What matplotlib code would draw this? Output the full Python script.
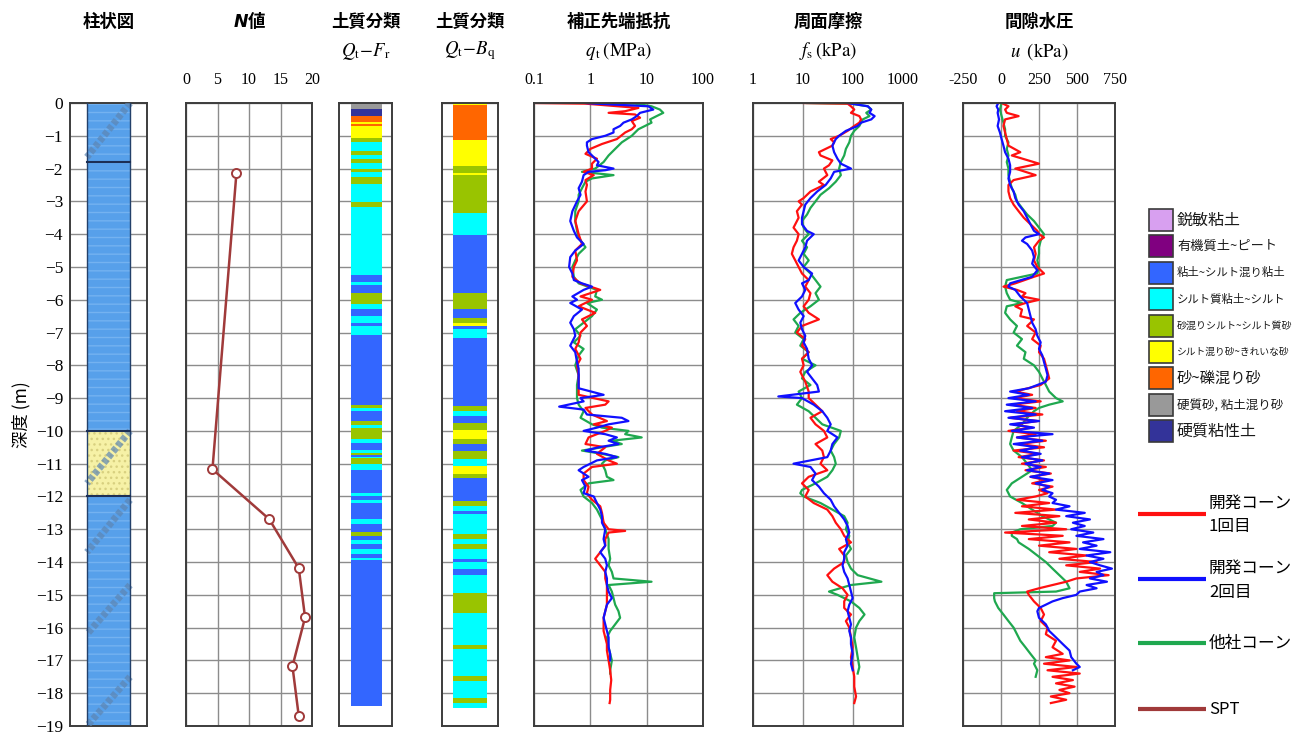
import numpy as np
import matplotlib
matplotlib.use("Agg")
import matplotlib.pyplot as plt
from matplotlib.patches import Rectangle

plt.rcParams['font.family'] = ['Noto Sans CJK JP', 'DejaVu Sans']
plt.rcParams['mathtext.fontset'] = 'stix'

# ---------------- DATA ----------------
soil_names = ['鋭敏粘土', '有機質土~ピート', '粘土~シルト混り粘土', 'シルト質粘土~シルト',
              '砂混りシルト~シルト質砂', 'シルト混り砂~きれいな砂', '砂~礫混り砂',
              '硬質砂, 粘土混り砂', '硬質粘性土']
soil_colors = ['#d8a0f0', '#800080', '#3366ff', '#00ffff', '#99c400', '#ffff00',
               '#ff6600', '#999999', '#333399']

column_bounds = [0.0, 1.8, 10.0, 12.0, 19.0]
column_type = ['clay', 'clay', 'sand', 'clay']
column_band_top = [0.0, 10.0, 12.1, 14.7, 17.5]
column_band_bot = [1.65, 11.6, 13.7, 16.2, 19.0]

spt_depth = [2.15, 11.17, 12.69, 14.19, 15.69, 17.18, 18.7]
spt_n = [8.0, 4.2, 13.2, 17.9, 18.9, 16.9, 17.9]

qtfr_bounds = [0.00, 0.17, 0.40, 0.58, 0.64, 0.70, 1.07, 1.20, 1.47, 1.58, 1.72, 1.82, 2.00, 2.10,
               2.25, 2.48, 3.02, 3.16, 5.26, 5.45, 5.55, 5.79, 6.12, 6.27, 6.50, 6.72, 6.80, 7.08,
               9.20, 9.30, 9.40, 9.70, 9.82, 9.90, 10.26, 10.38, 10.57, 10.67, 10.73, 10.80, 10.84,
               11.02, 11.20, 11.90, 12.00, 12.10, 12.20, 12.68, 12.85, 13.08, 13.20, 13.33, 13.45,
               13.60, 13.75, 13.87, 13.95, 18.40]
qtfr_class = [8, 9, 7, 6, 7, 6, 5, 4, 5, 4, 5, 4, 5, 4, 5, 4, 5, 4, 3, 4, 3, 5, 4, 3, 4, 3, 4, 3,
              5, 4, 3, 5, 4, 5, 4, 3, 4, 5, 3, 4, 5, 4, 3, 4, 3, 4, 3, 4, 3, 5, 3, 4, 3, 4, 3, 4, 3]

qtbq_bounds = [0.00, 0.06, 1.12, 1.91, 2.13, 2.21, 3.34, 4.02, 5.79, 6.27, 6.57, 6.72, 6.80, 6.90,
               7.16, 9.25, 9.40, 9.56, 9.76, 9.96, 10.26, 10.41, 10.60, 10.87, 11.07, 11.30, 11.44,
               12.13, 12.28, 12.43, 12.53, 13.14, 13.30, 13.45, 13.60, 13.90, 14.00, 14.20, 14.40,
               14.95, 15.56, 16.52, 16.66, 17.48, 17.64, 18.14, 18.30, 18.45]
qtbq_class = [6, 7, 6, 5, 6, 5, 4, 3, 5, 3, 5, 6, 3, 4, 3, 5, 4, 3, 5, 6, 5, 3, 5, 4, 6, 5, 3, 5, 4,
              3, 4, 5, 4, 5, 4, 3, 4, 3, 4, 5, 4, 5, 4, 5, 4, 5, 4]

# qt (MPa)
qt1_depth = [0.00, 0.02, 0.15, 0.25, 0.30, 0.35, 0.45, 0.55, 0.70, 0.80, 0.90, 1.10, 1.25, 1.40, 1.55,
             1.70, 1.85, 2.00, 2.10, 2.20, 2.35, 2.50, 2.70, 3.00, 3.30, 3.60, 3.80, 4.00, 4.30, 4.50,
             4.80, 5.00, 5.30, 5.50, 5.70, 5.90, 6.00, 6.20, 6.40, 6.60, 6.80, 7.00, 7.30, 7.50, 7.80,
             8.00, 8.30, 8.60, 8.90, 9.10, 9.20, 9.30, 9.50, 9.70, 9.80, 9.90, 10.00, 10.20, 10.40,
             10.50, 10.70, 10.90, 11.00, 11.10, 11.30, 11.50, 11.70, 11.90, 12.10, 12.30, 12.50,
             12.80, 13.00, 13.05, 13.10, 13.30, 13.50, 13.70, 13.90, 14.10, 14.30, 14.50, 14.70,
             14.90, 15.10, 15.30, 15.50, 15.70, 15.90, 16.10, 16.30, 16.50, 16.70, 17.00, 17.30,
             17.60, 17.90, 18.20, 18.30]
qt1_value = [0.10, 0.82, 7.13, 4.15, 2.11, 6.22, 7.63, 5.44, 6.22, 5.44, 4.15, 2.96, 1.61, 1.00, 0.82,
             1.31, 1.07, 1.07, 0.76, 1.15, 0.82, 0.87, 0.82, 0.87, 0.62, 0.54, 0.58, 0.62, 0.71, 0.54,
             0.58, 0.51, 0.48, 0.67, 1.50, 0.67, 1.07, 0.62, 1.22, 0.71, 0.87, 0.67, 0.62, 0.54, 0.67,
             0.58, 0.62, 0.62, 0.62, 2.11, 1.84, 0.82, 1.07, 1.97, 1.15, 2.41, 1.84, 0.93, 0.82,
             1.84, 1.31, 2.11, 2.96, 1.07, 0.76, 0.76, 0.93, 0.87, 1.07, 1.50, 1.61,
             1.72, 2.11, 4.15, 2.11, 1.84, 1.84, 1.50, 1.22, 1.50, 1.84, 1.84, 1.97,
             1.97, 1.97, 1.97, 1.84, 1.72, 1.72, 1.72, 1.84, 1.97, 1.97, 2.11, 2.25,
             2.35, 2.25, 2.25, 2.20]

qt2_depth = [0.00, 0.02, 0.10, 0.20, 0.30, 0.40, 0.50, 0.60, 0.70, 0.80, 0.90, 1.00, 1.10, 1.20, 1.30,
             1.50, 1.60, 1.80, 1.90, 2.00, 2.05, 2.10, 2.20, 2.40, 2.60, 2.80, 3.00, 3.30, 3.60, 3.90,
             4.10, 4.30, 4.50, 4.70, 5.00, 5.20, 5.40, 5.50, 5.60, 5.70, 5.90, 6.00, 6.10, 6.30, 6.50,
             6.70, 6.90, 7.10, 7.40, 7.60, 7.90, 8.10, 8.40, 8.70, 8.90, 9.00, 9.10, 9.26, 9.35, 9.50,
             9.60, 9.70, 9.80, 9.90, 10.00, 10.10, 10.20, 10.30, 10.40, 10.50, 10.60, 10.70, 10.80,
             10.90, 11.00, 11.10, 11.20, 11.40, 11.50, 11.70, 11.90, 12.00, 12.20, 12.40, 12.60,
             12.80, 13.00, 13.30, 13.50, 13.70, 13.90, 14.10, 14.30, 14.50, 14.70, 14.90, 15.10,
             15.30, 15.50, 15.70, 15.90, 16.10, 16.30, 16.60, 16.80, 17.00]
qt2_value = [0.82, 1.22, 10.7, 13.1, 7.63, 6.66, 5.44, 3.88, 3.38, 2.58, 2.58, 1.84, 1.07, 0.87, 0.87,
             0.93, 1.07, 1.40, 1.31, 2.58, 1.84, 0.93, 0.76, 0.71, 0.62, 0.67, 0.58, 0.48, 0.44, 0.51,
             0.58, 0.76, 0.54, 0.44, 0.42, 0.48, 0.51, 0.71, 1.07, 0.76, 0.48, 0.58, 0.44, 0.71, 0.51,
             0.44, 0.51, 0.54, 0.44, 0.54, 0.58, 0.62, 0.62, 0.62, 1.72, 0.67, 0.76, 0.28, 0.76, 0.87,
             3.62, 4.75, 2.11, 1.31, 0.76, 1.84, 2.96, 2.11, 3.16, 1.40, 0.82, 1.84, 2.96,
             1.31, 1.00, 0.76, 0.62, 0.93, 0.71, 0.82, 0.76, 1.15, 1.31, 1.50, 1.61,
             1.61, 1.84, 1.72, 1.84, 1.50, 1.84, 1.97, 1.84, 1.97, 1.97, 2.11, 2.41,
             1.97, 1.84, 1.72, 1.84, 1.97, 2.11, 2.11, 2.25, 2.25]

qt3_depth = [0.00, 0.02, 0.10, 0.20, 0.30, 0.40, 0.50, 0.60, 0.70, 0.80, 0.90, 1.00, 1.20, 1.40, 1.60,
             1.80, 2.00, 2.10, 2.20, 2.30, 2.40, 2.60, 2.80, 3.00, 3.30, 3.60, 3.90, 4.10, 4.40, 4.60,
             4.80, 5.00, 5.30, 5.50, 5.70, 5.90, 6.00, 6.10, 6.30, 6.50, 6.70, 6.90, 7.10, 7.30, 7.50,
             7.70, 8.00, 8.30, 8.60, 8.90, 9.00, 9.20, 9.40, 9.60, 9.80, 9.90, 10.00, 10.10, 10.20,
             10.30, 10.40, 10.60, 10.70, 10.80, 10.90, 11.00, 11.20, 11.40, 11.50, 11.60, 11.80,
             12.00, 12.20, 12.40, 12.60, 12.80, 13.00, 13.30, 13.60, 13.90, 14.10, 14.30, 14.50,
             14.60, 14.70, 14.90, 15.10, 15.30, 15.50, 15.70, 15.90, 16.10, 16.30, 16.60, 16.80,
             17.00, 17.30, 17.40]
qt3_value = [1.22, 6.22, 12.2, 17.2, 19.7, 15.0, 11.5, 12.2, 9.35, 7.13, 6.22, 5.44, 3.62, 2.76, 2.11,
             1.72, 1.22, 0.71, 2.58, 1.07, 0.82, 0.71, 0.62, 0.62, 0.54, 0.54, 0.58, 0.62, 0.82, 0.62,
             0.54, 0.48, 0.51, 0.62, 1.31, 1.22, 1.61, 0.87, 1.31, 1.07, 0.76, 0.54, 0.67, 0.51, 0.76,
             0.62, 0.54, 0.62, 0.58, 0.58, 0.58, 0.62, 0.76, 0.67, 1.07, 1.61, 4.75, 4.15, 8.16,
             2.41, 3.62, 0.71, 1.61, 3.16, 1.84, 1.61, 1.84, 1.97, 2.58, 0.93, 0.67,
             0.76, 1.07, 1.31, 1.50, 1.72, 1.84, 2.11, 2.11, 2.25, 2.11, 2.41, 2.58,
             12.2, 2.11, 2.41, 2.58, 2.76, 3.16, 3.38, 2.76, 2.25, 1.97, 2.11, 2.25,
             2.41, 2.25, 2.25]

# fs (kPa)
fs1_depth = [0.00, 0.02, 0.10, 0.20, 0.30, 0.40, 0.50, 0.60, 0.70, 0.85, 1.00, 1.10, 1.20, 1.30, 1.50,
             1.60, 1.75, 1.90, 2.00, 2.20, 2.40, 2.50, 2.70, 2.90, 3.00, 3.10, 3.30, 3.50, 3.80, 4.00,
             4.20, 4.40, 4.60, 4.80, 5.00, 5.20, 5.40, 5.60, 5.80, 6.00, 6.20, 6.40, 6.60, 6.80, 7.00,
             7.20, 7.40, 7.60, 7.80, 8.00, 8.20, 8.50, 8.80, 9.00, 9.20, 9.40, 9.60, 9.80, 10.00,
             10.20, 10.40, 10.60, 10.80, 11.00, 11.20, 11.40, 11.60, 11.80, 12.00, 12.20, 12.40,
             12.60, 12.80, 13.00, 13.20, 13.40, 13.60, 13.80, 14.00, 14.20, 14.40, 14.60, 14.80,
             15.00, 15.20, 15.40, 15.60, 15.80, 16.00, 16.30, 16.60, 16.90, 17.20, 17.50, 17.80,
             18.10, 18.30]
fs1_value = [10.3, 78.0, 91.1, 106, 91.1, 134, 145, 134, 106, 78.0, 52.8, 35.8, 41.9, 38.7, 20.8,
             22.4, 38.7, 33.1, 26.2, 30.6, 20.8, 26.2, 14.1, 10.3, 8.17, 9.55, 7.55, 8.17, 6.47, 8.17,
             7.55, 6.47, 5.98, 7.0, 8.17, 9.55, 13.0, 11.1, 14.1, 13.0, 10.3, 13.0, 20.8, 9.55, 7.55,
             11.1, 9.55, 13.0, 9.55, 10.3, 8.83, 11.1, 13.0, 13.0, 17.8, 24.3, 14.1, 17.8, 26.2,
             30.6, 17.8, 24.3, 26.2, 22.4, 30.6, 13.0, 9.55, 13.0, 11.1, 16.4, 30.6,
             38.7, 45.2, 57.1, 66.7, 91.1, 52.8, 66.7, 66.7, 41.9, 30.6, 38.7, 61.8,
             78.0, 66.7, 66.7, 91.1, 72.1, 84.3, 91.1, 98.4, 91.1, 98.4, 106, 106,
             115, 106]

fs2_depth = [0.00, 0.10, 0.20, 0.30, 0.40, 0.50, 0.60, 0.70, 0.85, 1.00, 1.10, 1.30, 1.50, 1.70, 1.85,
             2.00, 2.10, 2.30, 2.50, 2.70, 2.90, 3.10, 3.30, 3.50, 3.70, 3.90, 4.00, 4.20, 4.40, 4.60,
             4.80, 5.00, 5.20, 5.40, 5.50, 5.70, 5.90, 6.10, 6.30, 6.50, 6.70, 6.90, 7.10, 7.30, 7.50,
             7.80, 8.00, 8.20, 8.40, 8.60, 8.80, 8.95, 9.00, 9.20, 9.40, 9.60, 9.80, 10.00, 10.20,
             10.40, 10.60, 10.80, 10.90, 11.00, 11.10, 11.30, 11.50, 11.70, 11.90, 12.10, 12.30,
             12.50, 12.70, 12.90, 13.10, 13.30, 13.50, 13.70, 13.90, 14.10, 14.30, 14.50, 14.70,
             14.90, 15.10, 15.30, 15.50, 15.70, 15.90, 16.10, 16.30, 16.50, 16.80, 17.10, 17.30]
fs2_value = [78.0, 198, 232, 214, 271, 232, 145, 124, 72.1, 52.8, 45.2, 38.7, 41.9, 48.9, 57.1,
             91.1, 41.9, 35.8, 28.4, 19.2, 14.1, 11.1, 10.3, 9.55, 9.55, 12.05, 16.4, 12.05, 11.1, 9.55,
             8.17, 10.3, 15.2, 13.0, 9.55, 11.1, 9.55, 7.0, 8.17, 10.3, 8.83, 9.55, 11.1, 10.3, 12.05,
             13.0, 15.2, 12.05, 15.2, 19.2, 20.8, 3.21, 9.55, 16.4, 24.3, 30.6, 35.8, 30.6, 48.9,
             38.7, 35.8, 30.6, 14.1, 6.47, 14.1, 17.8, 15.2, 20.8, 26.2, 35.8, 41.9,
             52.8, 66.7, 78.0, 84.3, 72.1, 78.0, 66.7, 66.7, 61.8, 66.7, 78.0, 84.3,
             91.1, 98.4, 84.3, 78.0, 84.3, 91.1, 84.3, 91.1, 91.1, 98.4, 91.1, 98.4]

fs3_depth = [0.00, 0.02, 0.10, 0.20, 0.30, 0.40, 0.50, 0.60, 0.70, 0.85, 1.00, 1.20, 1.40, 1.60, 1.80,
             2.00, 2.20, 2.40, 2.60, 2.80, 3.00, 3.20, 3.40, 3.60, 3.80, 4.00, 4.20, 4.40, 4.60, 4.80,
             5.00, 5.20, 5.40, 5.60, 5.80, 6.00, 6.20, 6.40, 6.60, 6.80, 7.00, 7.20, 7.40, 7.60, 7.80,
             8.00, 8.20, 8.40, 8.60, 8.80, 9.00, 9.20, 9.40, 9.60, 9.80, 10.00, 10.20, 10.40, 10.60,
             10.80, 11.00, 11.20, 11.40, 11.60, 11.80, 11.90, 12.00, 12.20, 12.40, 12.60, 12.80,
             13.00, 13.20, 13.40, 13.60, 13.80, 14.00, 14.20, 14.40, 14.60, 14.70, 14.90, 15.00,
             15.20, 15.40, 15.60, 15.80, 16.00, 16.30, 16.60, 16.90, 17.20, 17.40]
fs3_value = [12.05, 91.1, 198, 232, 184, 214, 157, 145, 134, 106, 91.1, 84.3, 72.1, 66.7, 57.1,
             52.8, 57.1, 45.2, 33.1, 22.4, 17.8, 14.1, 12.05, 9.55, 10.3, 13.0, 9.55, 12.05, 10.3, 13.0,
             10.3, 14.1, 17.8, 22.4, 17.8, 20.8, 14.1, 8.83, 6.47, 8.17, 7.0, 10.3, 8.83, 13.0, 9.55,
             17.8, 11.1, 9.55, 14.1, 8.17, 9.55, 7.55, 13.0, 17.8, 24.3, 57.1, 52.8, 41.9, 35.8,
             41.9, 45.2, 38.7, 30.6, 17.8, 9.55, 8.83, 10.3, 22.4, 38.7, 66.7, 78.0,
             72.1, 84.3, 78.0, 91.1, 72.1, 78.0, 91.1, 124, 370, 91.1, 33.1, 48.9,
             91.1, 134, 170, 134, 115, 106, 115, 124, 134, 124]

# u (kPa)
u1_depth = [0.0, 0.1, 0.2, 0.3, 0.4, 0.5, 0.7, 0.9, 1.1, 1.3, 1.5, 1.6, 1.85, 2.0, 2.2, 2.35, 2.5, 2.7,
            2.9, 3.1, 3.3, 3.5, 3.7, 3.9, 4.0, 4.1, 4.2, 4.4, 4.6, 4.8, 5.0, 5.2, 5.3, 5.5, 5.6, 5.7,
            5.8, 5.9, 6.0, 6.1, 6.2, 6.3, 6.5, 6.6, 6.8, 7.0, 7.2, 7.4, 7.6, 7.8, 8.0, 8.2, 8.4, 8.6,
            8.8, 8.9, 9.0, 9.1, 9.2, 9.3, 9.4, 9.5, 9.6, 9.7, 9.8, 9.9, 10.0, 10.1, 10.2, 10.3, 10.4,
            10.5, 10.6, 10.7, 10.8, 10.9, 11.0, 11.1, 11.2, 11.3, 11.4, 11.5, 11.6, 11.7, 11.8, 11.9,
            12.0, 12.1, 12.2, 12.3, 12.4, 12.5, 12.6, 12.7, 12.8, 12.9, 13.0, 13.1, 13.2, 13.3, 13.4,
            13.5, 13.6, 13.7, 13.8, 13.9, 14.0, 14.1, 14.2, 14.3, 14.4, 14.5, 14.6, 14.7, 14.8, 14.9,
            15.0, 15.2, 15.4, 15.6, 15.8, 16.0, 16.2, 16.4, 16.6, 16.8, 16.9, 17.0, 17.1, 17.2, 17.3,
            17.4, 17.5, 17.6, 17.7, 17.8, 17.9, 18.0, 18.1, 18.2, 18.3]
u1_value = [4, 49, 27, 38, 116, 27, 16, 27, 38, 49, 127, 71, 250, 94, 228, 83, 49, 49,
            60, 83, 116, 150, 194, 239, 250, 283, 250, 217, 228, 217, 239, 283, 217, 94, 16, 105,
            161, 138, 250, 161, 94, 138, 127, 217, 172, 228, 205, 261, 250, 283, 295, 306, 317, 261,
            94, 205, 83, 261, 71, 228, 105, 272, 60, 239, 83, 205, 49, 228, 105, 295, 116,
            283, 83, 250, 116, 283, 138, 295, 161, 328, 194, 295, 205, 339, 250, 306,
            228, 105, 317, 138, 362, 94, 384, 183, 362, 138, 429, 27, 406, 183, 451,
            250, 496, 317, 563, 384, 629, 429, 652, 518, 708, 496, 429, 339, 250, 172,
            183, 217, 261, 283, 261, 306, 295, 362, 339, 406, 295, 451, 283, 496, 306,
            518, 339, 473, 362, 484, 384, 451, 328, 429, 328]

u2_depth = [0.0, 0.1, 0.2, 0.3, 0.5, 0.7, 0.9, 1.1, 1.3, 1.5, 1.7, 1.9, 2.1, 2.3, 2.5, 2.7, 2.9, 3.1,
            3.3, 3.5, 3.7, 3.9, 4.0, 4.1, 4.2, 4.3, 4.5, 4.7, 4.9, 5.1, 5.3, 5.5, 5.6, 5.7, 5.9, 6.1,
            6.3, 6.5, 6.7, 6.9, 7.1, 7.3, 7.5, 7.7, 7.9, 8.1, 8.3, 8.5, 8.7, 8.8, 8.9, 9.0, 9.1, 9.2,
            9.3, 9.4, 9.5, 9.6, 9.7, 9.8, 9.9, 10.0, 10.1, 10.2, 10.3, 10.4, 10.5, 10.6, 10.7, 10.8,
            10.9, 11.0, 11.1, 11.2, 11.3, 11.4, 11.5, 11.6, 11.7, 11.8, 11.9, 12.0, 12.1, 12.2, 12.3,
            12.4, 12.5, 12.6, 12.7, 12.8, 12.9, 13.0, 13.1, 13.2, 13.3, 13.4, 13.5, 13.6, 13.7, 13.8,
            13.9, 14.0, 14.1, 14.2, 14.3, 14.4, 14.5, 14.6, 14.7, 14.8, 14.9, 15.0, 15.1, 15.2, 15.3,
            15.4, 15.5, 15.7, 15.9, 16.1, 16.3, 16.5, 16.7, 16.9, 17.1, 17.2, 17.3]
u2_value = [-18, -29, -18, -22, -13, -22, -7, 4, 16, 27, 49, 60, 60, 49, 60, 83, 94, 116,
            150, 172, 194, 217, 250, 161, 138, 172, 205, 217, 205, 239, 205, 60, 49, 94, 127, 172,
            183, 194, 205, 228, 239, 261, 250, 272, 283, 295, 306, 295, 183, 60, 183, 49, 228, 38,
            205, 27, 228, 49, 250, 60, 217, 71, 339, 105, 272, 83, 239, 127, 261, 138,
            272, 161, 261, 172, 317, 194, 339, 228, 317, 272, 339, 317, 362, 339, 451,
            362, 551, 429, 585, 473, 551, 462, 607, 496, 674, 540, 629, 518, 719, 563,
            674, 585, 652, 730, 629, 674, 585, 697, 563, 629, 518, 496, 406, 339, 295,
            250, 239, 250, 295, 317, 362, 406, 451, 462, 496, 518, 473]

u3_depth = [0.0, 0.2, 0.4, 0.6, 0.8, 1.0, 1.2, 1.4, 1.6, 1.8, 2.0, 2.2, 2.4, 2.6, 2.8, 3.0, 3.2, 3.4,
            3.6, 3.8, 4.0, 4.2, 4.4, 4.6, 4.8, 5.0, 5.2, 5.3, 5.4, 5.6, 5.8, 6.0, 6.1, 6.2, 6.4, 6.6,
            6.8, 7.0, 7.2, 7.4, 7.6, 7.8, 8.0, 8.2, 8.4, 8.6, 8.8, 9.0, 9.1, 9.2, 9.3, 9.4, 9.6, 9.8,
            10.0, 10.2, 10.4, 10.6, 10.8, 11.0, 11.2, 11.4, 11.6, 11.8, 12.0, 12.2, 12.4, 12.6, 12.8,
            12.9, 13.0, 13.1, 13.2, 13.3, 13.4, 13.6, 13.8, 14.0, 14.2, 14.4, 14.6, 14.8, 14.9, 14.95,
            15.1, 15.2, 15.4, 15.6, 15.8, 16.0, 16.2, 16.4, 16.6, 16.8, 17.0, 17.1, 17.3, 17.5]
u3_value = [4, -7, 4, 16, 27, 27, 49, 38, 49, 38, 49, 49, 60, 71, 94, 105, 138, 172,
            217, 250, 283, 261, 250, 250, 239, 250, 239, 138, 38, 27, 38, 60, 138, 38, 27, 60,
            105, 83, 138, 105, 161, 150, 217, 250, 272, 295, 317, 362, 406, 317, 250, 217, 172, 138,
            83, 71, 60, 83, 138, 172, 205, 138, 71, 38, 60, 138, 205, 272, 362,
            339, 127, 71, 71, 105, 116, 183, 239, 295, 339, 384, 429, 451, 362, -45,
            -45, -40, -18, 16, 49, 83, 105, 127, 161, 194, 228, 217, 239, 228]

# ---------------- LAYOUT ----------------
W, H = 1314, 736
fig = plt.figure(figsize=(W / 100, H / 100), dpi=100)
fig.patch.set_facecolor('white')

Y0, Y1 = 103, 726
SERIF = 'Liberation Serif'
SPINE = '#3c3c3c'
GRID = '#8c8c8c'
RED, BLUE, GREEN, BROWN = '#ff1010', '#1010ff', '#1fa84f', '#a03a3a'


def add_ax(x0, x1):
    return fig.add_axes([x0 / W, 1 - Y1 / H, (x1 - x0) / W, (Y1 - Y0) / H])


def base_style(ax, ylabels=False):
    ax.set_ylim(-19, 0)
    ax.set_yticks(np.arange(0, -20, -1))
    ax.yaxis.grid(True, color=GRID, lw=1.0)
    ax.set_axisbelow(True)
    for s in ax.spines.values():
        s.set_color(SPINE)
        s.set_linewidth(1.4)
    ax.tick_params(axis='y', length=0, labelleft=ylabels, pad=5)
    if ylabels:
        for lab in ax.get_yticklabels():
            lab.set_fontfamily(SERIF)
            lab.set_fontsize(12.5)


def top_ticks(ax, ticks, labels):
    ax.xaxis.tick_top()
    ax.set_xticks(ticks)
    ax.set_xticklabels(labels, fontfamily=SERIF, fontsize=11.5)
    ax.tick_params(axis='x', which='both', length=0, pad=11)
    ax.xaxis.set_minor_locator(matplotlib.ticker.NullLocator())
    ax.xaxis.grid(True, color=GRID, lw=1.0)


# Column (柱状図)
ax_col = add_ax(70, 147)
base_style(ax_col, ylabels=True)
ax_col.set_xlim(0, 1)
ax_col.set_xticks([])
for top, bot, kind in zip(column_bounds[:-1], column_bounds[1:], column_type):
    if kind == 'clay':
        ax_col.fill_betweenx([-top, -bot], 0.22, 0.78, facecolor='#57a0ea', edgecolor='#74b2f0',
                             hatch='--', linewidth=0, zorder=2)
    else:
        ax_col.fill_betweenx([-top, -bot], 0.22, 0.78, facecolor='#f6f1a6', edgecolor='#d8d080',
                             hatch='...', linewidth=0, zorder=2)
for t, b in zip(column_band_top, column_band_bot):
    ax_col.plot([0.78, 0.22], [-t, -b], color='#5d86b3', lw=5, alpha=0.7,
                ls=(0, (0.7, 0.35)), solid_capstyle='butt', zorder=3)
ax_col.plot([0.22, 0.22], [0, -19], color='#23406a', lw=1.0, zorder=4)
ax_col.plot([0.78, 0.78], [0, -19], color='#23406a', lw=1.0, zorder=4)
for d in column_bounds[1:-1]:
    ax_col.plot([0.22, 0.78], [-d, -d], color='#1c2f55', lw=1.5, zorder=4)
ax_col.set_ylabel('深度 (m)', fontsize=12.5, labelpad=4)

# N value
ax_n = add_ax(186, 312)
base_style(ax_n)
ax_n.set_xlim(0, 20)
top_ticks(ax_n, [0, 5, 10, 15, 20], ['0', '5', '10', '15', '20'])
ax_n.plot(spt_n, -np.array(spt_depth), color=BROWN, lw=1.8, marker='o', ms=6.5,
          mfc='white', mec=BROWN, mew=1.4, zorder=3)


def strip(ax, bounds, classes, xl, xr):
    for top, bot, c in zip(bounds[:-1], bounds[1:], classes):
        ax.fill_betweenx([-top, -bot], xl, xr, color=soil_colors[c - 1], linewidth=0, zorder=2)


ax_fr = add_ax(339, 392)
base_style(ax_fr)
ax_fr.set_xlim(0, 1)
ax_fr.set_xticks([])
strip(ax_fr, qtfr_bounds, qtfr_class, 0.225, 0.81)

ax_bq = add_ax(442, 498)
base_style(ax_bq)
ax_bq.set_xlim(0, 1)
ax_bq.set_xticks([])
strip(ax_bq, qtbq_bounds, qtbq_class, 0.195, 0.805)

# qt
ax_qt = add_ax(534, 703)
base_style(ax_qt)
ax_qt.set_xscale('log')
ax_qt.set_xlim(0.1, 100)
top_ticks(ax_qt, [0.1, 1, 10, 100], ['0.1', '1', '10', '100'])
ax_qt.plot(qt3_value, -np.array(qt3_depth), color=GREEN, lw=1.6)
ax_qt.plot(qt1_value, -np.array(qt1_depth), color=RED, lw=1.6)
ax_qt.plot(qt2_value, -np.array(qt2_depth), color=BLUE, lw=1.6)

# fs
ax_fs = add_ax(753, 903)
base_style(ax_fs)
ax_fs.set_xscale('log')
ax_fs.set_xlim(1, 1000)
top_ticks(ax_fs, [1, 10, 100, 1000], ['1', '10', '100', '1000'])
ax_fs.plot(fs3_value, -np.array(fs3_depth), color=GREEN, lw=1.6)
ax_fs.plot(fs1_value, -np.array(fs1_depth), color=RED, lw=1.6)
ax_fs.plot(fs2_value, -np.array(fs2_depth), color=BLUE, lw=1.6)

# u
ax_u = add_ax(963, 1115)
base_style(ax_u)
ax_u.set_xlim(-250, 750)
top_ticks(ax_u, [-250, 0, 250, 500, 750], ['-250', '0', '250', '500', '750'])
ax_u.plot(u3_value, -np.array(u3_depth), color=GREEN, lw=1.6)
ax_u.plot(u1_value, -np.array(u1_depth), color=RED, lw=1.6)
ax_u.plot(u2_value, -np.array(u2_depth), color=BLUE, lw=1.6)

# ---------------- HEADERS ----------------
def cx(ax):
    b = ax.get_position()
    return b.x0 + b.width / 2


def fy(py):
    return 1 - py / H


TS = 12.5
fig.text(cx(ax_col), fy(22), '柱状図', ha='center', va='center', fontsize=TS, fontweight='bold')
fig.text(cx(ax_n) - 0.001, fy(22), 'N', ha='right', va='center', fontsize=TS, fontweight='bold',
         fontstyle='italic', family='DejaVu Sans')
fig.text(cx(ax_n) - 0.001, fy(22), '値', ha='left', va='center', fontsize=TS, fontweight='bold')
fig.text(cx(ax_fr), fy(22), '土質分類', ha='center', va='center', fontsize=TS, fontweight='bold')
fig.text(cx(ax_bq), fy(22), '土質分類', ha='center', va='center', fontsize=TS, fontweight='bold')
fig.text(cx(ax_qt), fy(22), '補正先端抵抗', ha='center', va='center', fontsize=TS, fontweight='bold')
fig.text(cx(ax_fs), fy(22), '周面摩擦', ha='center', va='center', fontsize=TS, fontweight='bold')
fig.text(cx(ax_u), fy(22), '間隙水圧', ha='center', va='center', fontsize=TS, fontweight='bold')

SS = 13.5
fig.text(cx(ax_fr), fy(51), r'$Q_{\rm t}\!-\!F_{\rm r}$', ha='center', va='center', fontsize=SS)
fig.text(cx(ax_bq), fy(51), r'$Q_{\rm t}\!-\!B_{\rm q}$', ha='center', va='center', fontsize=SS)
fig.text(cx(ax_qt), fy(51), r'$q_{\,\rm t}\,\mathrm{(MPa)}$', ha='center', va='center', fontsize=SS)
fig.text(cx(ax_fs), fy(51), r'$f_{\rm s}\,\mathrm{(kPa)}$', ha='center', va='center', fontsize=SS)
fig.text(cx(ax_u), fy(51), r'$u\;\;\mathrm{(kPa)}$', ha='center', va='center', fontsize=SS)

# ---------------- LEGENDS ----------------
lg = fig.add_axes([0, 0, 1, 1])
lg.set_xlim(0, W)
lg.set_ylim(H, 0)
lg.axis('off')
lg.patch.set_visible(False)

soil_font = [11.5, 9.5, 8.2, 8.2, 7.2, 7.0, 11.0, 9.0, 11.5]
leg_y0, leg_dy = 220, 26.4
for i, (name, col) in enumerate(zip(soil_names, soil_colors)):
    yc = leg_y0 + i * leg_dy
    lg.add_patch(Rectangle((1149, yc - 11), 24, 22, facecolor=col, edgecolor='#3a3a3a', lw=1.2))
    lg.text(1177, yc, name, ha='left', va='center', fontsize=soil_font[i], color='#1a1a1a')

line_items = [(RED, 514, ['開発コーン', '1回目']),
              (BLUE, 579, ['開発コーン', '2回目']),
              (GREEN, 643, ['他社コーン']),
              (BROWN, 709, ['SPT'])]
for col, yc, texts in line_items:
    lg.plot([1138, 1206], [yc, yc], color=col, lw=3.0, solid_capstyle='butt')
    if len(texts) == 2:
        lg.text(1209, yc - 11, texts[0], ha='left', va='center', fontsize=12)
        lg.text(1209, yc + 13, texts[1], ha='left', va='center', fontsize=12)
    else:
        lg.text(1209, yc, texts[0], ha='left', va='center', fontsize=12)

fig.savefig('out.png', dpi=100, facecolor='white')
